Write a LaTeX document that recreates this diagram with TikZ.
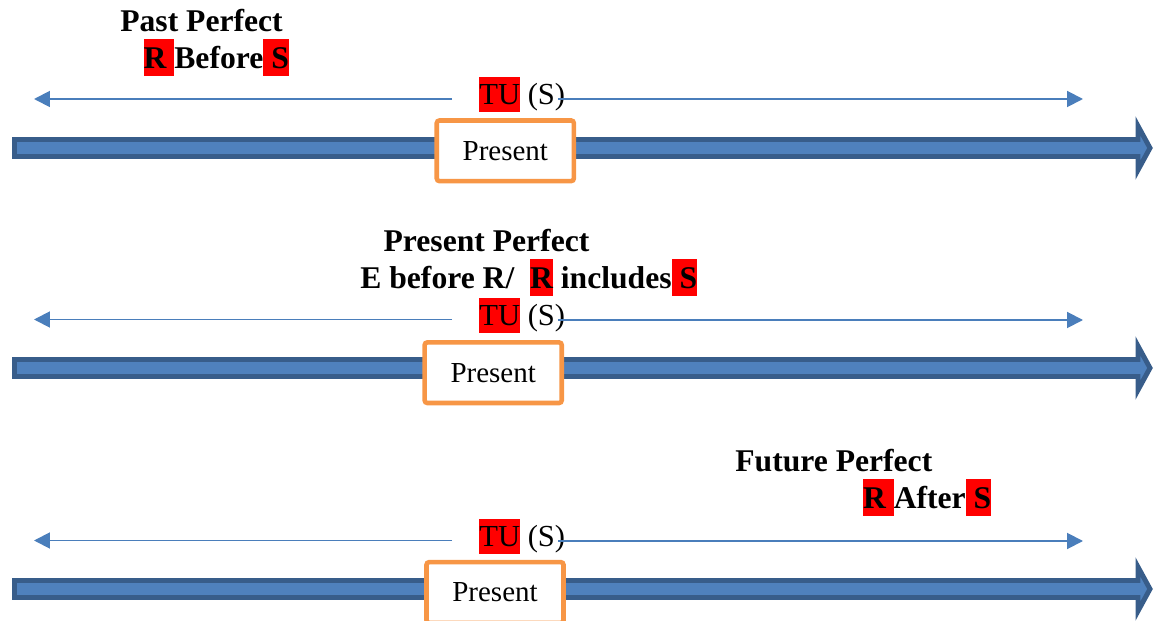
\documentclass[tikz,border=0pt]{standalone}
\usepackage{fontspec}
\setmainfont{Liberation Serif}
\usetikzlibrary{arrows.meta}
\definecolor{barfill}{HTML}{4F81BD}
\definecolor{barline}{HTML}{385D8A}
\definecolor{thinblue}{HTML}{4A7EBB}
\definecolor{boxorange}{HTML}{F79646}
\newcommand{\hlbox}[1]{\begingroup\setlength{\fboxsep}{0pt}\colorbox{red}{\rule[-0.233em]{0pt}{1.148em}#1}\endgroup}
\tikzset{
  head/.style={anchor=base west,inner sep=0pt,font=\fontsize{18}{20}\selectfont\bfseries},
  tulabel/.style={anchor=base west,inner sep=0pt,font=\fontsize{17.4}{19}\selectfont},
  presentbox/.style={draw=boxorange,line width=2.6pt,fill=white,rounded corners=1.5pt,
    minimum width=78pt,minimum height=34.5pt,inner sep=0pt,font=\fontsize{16.5}{18}\selectfont},
  thinarrow/.style={draw=thinblue,line width=1.1pt,-{Triangle[length=9pt,width=9pt]}},
  bigarrow/.style={fill=barfill,draw=barline,line width=2.8pt,line join=miter},
}
\begin{document}
\begin{tikzpicture}[x=0.02cm,y=-0.02cm]
\useasboundingbox (0,0) rectangle (1153,621);
\clip (0,0) rectangle (1153,621);
% ---------- thick time lines ----------
\foreach \c in {148,368,589}{
  \draw[bigarrow] (14.5,\c-8.5) -- (1138,\c-8.5) -- (1138,\c-22) -- (1150,\c) -- (1138,\c+22) -- (1138,\c+8.5) -- (14.5,\c+8.5) -- cycle;
}
% ---------- panel 1 ----------
\node[head] (pp) at (120,31.7) {Past Perfect};
\node[head] (ppr) at (143.3,68.3) {\hlbox{R\ }Before\hlbox{\ S}};
\node[tulabel] (tu1) at (479,105) {\hlbox{TU} (S)};
\coordinate (l1s) at (452,99);
\coordinate (l1e) at (34,99);
\coordinate (r1s) at (558,99);
\coordinate (r1e) at (1083,99);
\draw[thinarrow] (l1s) -- (l1e);
\draw[thinarrow] (r1s) -- (r1e);
\node[presentbox] (p1) at (505.3,150.8) {Present};
% ---------- panel 2 ----------
\node[head] (prp) at (383.3,251.7) {Present Perfect};
\node[head] (prr) at (360,288.3) {E before R/\ \ \hlbox{R}\ includes\hlbox{\ S}};
\node[tulabel] (tu2) at (479,326) {\hlbox{TU} (S)};
\coordinate (l2s) at (452,319.5);
\coordinate (l2e) at (34,319.5);
\coordinate (r2s) at (558,320);
\coordinate (r2e) at (1083,320);
\draw[thinarrow] (l2s) -- (l2e);
\draw[thinarrow] (r2s) -- (r2e);
\node[presentbox] (p2) at (493.2,372.7) {Present};
% ---------- panel 3 ----------
\node[head] (fp) at (735,471.7) {Future Perfect};
\node[head] (fpr) at (862.7,508.3) {\hlbox{R\ }After\hlbox{\ S}};
\node[tulabel] (tu3) at (479,546.7) {\hlbox{TU} (S)};
\coordinate (l3s) at (452,540.5);
\coordinate (l3e) at (34,540.5);
\coordinate (r3s) at (558,541);
\coordinate (r3e) at (1083,541);
\draw[thinarrow] (l3s) -- (l3e);
\draw[thinarrow] (r3s) -- (r3e);
\node[presentbox] (p3) at (495,592.5) {Present};
\end{tikzpicture}
\end{document}
